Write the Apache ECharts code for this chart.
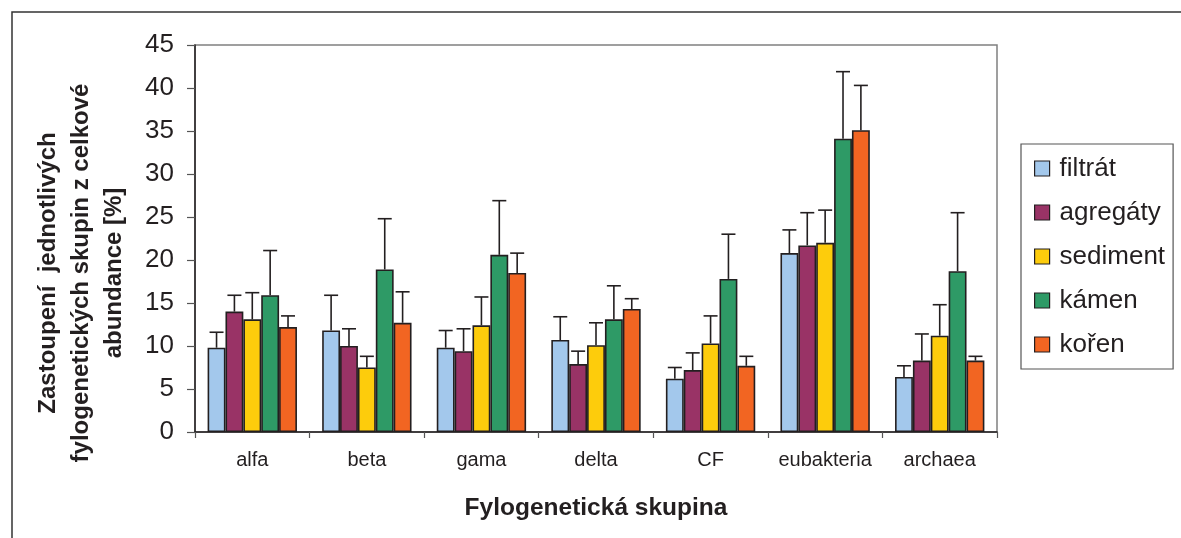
<!DOCTYPE html>
<html>
<head>
<meta charset="utf-8">
<script src="https://cdn.jsdelivr.net/npm/echarts@6/dist/echarts.min.js"></script>
<style>html,body{margin:0;padding:0;background:#fff;}#c{width:1181px;height:538px;}</style>
</head>
<body>
<div id="c"></div>
<script>
const categories = ['alfa', 'beta', 'gama', 'delta', 'CF', 'eubakteria', 'archaea'];
const seriesNames = ['filtrát', 'agregáty', 'sediment', 'kámen', 'kořen'];
const filtrat  = [9.8, 11.8, 9.8, 10.7, 6.2, 20.8, 6.4];
const agregaty = [14.0, 10.0, 9.4, 7.9, 7.2, 21.7, 8.3];
const sediment = [13.1, 7.5, 12.4, 10.1, 10.3, 22.0, 11.2];
const kamen    = [15.9, 18.9, 20.6, 13.1, 17.8, 34.1, 18.7];
const koren    = [12.2, 12.7, 18.5, 14.3, 7.7, 35.1, 8.3];
const errFiltrat  = [1.8, 4.1, 2.0, 2.7, 1.3, 2.7, 1.3];
const errAgregaty = [1.9, 2.0, 2.6, 1.5, 2.0, 3.8, 3.1];
const errSediment = [3.1, 1.3, 3.3, 2.6, 3.2, 3.8, 3.6];
const errKamen    = [5.2, 5.9, 6.3, 3.9, 5.2, 7.8, 6.8];
const errKoren    = [1.3, 3.6, 2.3, 1.2, 1.1, 5.2, 0.5];
const yTicks = [0, 5, 10, 15, 20, 25, 30, 35, 40, 45];

const values = [filtrat, agregaty, sediment, kamen, koren];
const errors = [errFiltrat, errAgregaty, errSediment, errKamen, errKoren];
const colors = ['#a3c8ec', '#993366', '#fdcc0c', '#2e9a66', '#f26522'];
const edge = '#231f20';
const GAP = 0.22;
const FONT = '"Liberation Sans", Arial, sans-serif';

const chart = echarts.init(document.getElementById('c'), null, {renderer: 'canvas'});

const series = [];
values.forEach((vals, i) => {
  series.push({
    name: seriesNames[i],
    type: 'bar',
    data: vals,
    barGap: '0%',
    barCategoryGap: (GAP * 100) + '%',
    itemStyle: {color: colors[i], borderColor: edge, borderWidth: 1.6},
    emphasis: {disabled: true}
  });
});
values.forEach((vals, i) => {
  series.push({
    type: 'custom',
    name: seriesNames[i] + '_err',
    z: 5,
    data: vals.map((v, c) => [c, v, errors[i][c]]),
    renderItem: function (params, api) {
      const c = api.value(0), v = api.value(1), e = api.value(2);
      const base = api.coord([c, v]);
      const top = api.coord([c, v + e]);
      const band = api.size([1, 0])[0];
      const grp = band * (1 - GAP);
      const bw = grp / 5;
      const x = base[0] - grp / 2 + (i + 0.5) * bw;
      const st = {stroke: edge, lineWidth: 1.6};
      return {
        type: 'group',
        children: [
          {type: 'line', shape: {x1: x, y1: base[1], x2: x, y2: top[1]}, style: st},
          {type: 'line', shape: {x1: x - 7, y1: top[1], x2: x + 7, y2: top[1]}, style: st}
        ]
      };
    },
    silent: true
  });
});

chart.setOption({
  animation: false,
  backgroundColor: '#fff',
  grid: {left: 195, right: 184, top: 45, bottom: 106, show: true, borderColor: '#808080', borderWidth: 1.5, backgroundColor: 'transparent'},
  legend: {
    data: seriesNames,
    orient: 'vertical',
    left: 1021,
    top: 144,
    padding: [11, 8, 11, 13],
    itemGap: 17,
    itemWidth: 15,
    itemHeight: 15,
    borderColor: '#555',
    borderWidth: 1.2,
    icon: 'rect',
    itemStyle: {borderColor: edge, borderWidth: 1.2},
    textStyle: {fontFamily: FONT, fontSize: 26, lineHeight: 27, color: '#231f20', padding: [0, 0, 0, 5]},
    selectedMode: false
  },
  xAxis: {
    type: 'category',
    data: categories,
    axisLine: {lineStyle: {color: edge, width: 1.5}},
    axisTick: {show: true, interval: 0, length: 6, lineStyle: {color: '#555', width: 1.2}},
    axisLabel: {interval: 0, fontFamily: FONT, fontSize: 20, color: '#231f20', margin: 18},
    name: 'Fylogenetická skupina',
    nameLocation: 'middle',
    nameGap: 64,
    nameTextStyle: {fontFamily: FONT, fontSize: 24.5, fontWeight: 'bold', color: '#231f20'}
  },
  yAxis: {
    type: 'value',
    min: 0,
    max: 45,
    interval: 5,
    axisLine: {show: true, lineStyle: {color: edge, width: 1.5}},
    axisTick: {show: true, length: 8, lineStyle: {color: '#555', width: 1.2}},
    splitLine: {show: false},
    axisLabel: {fontFamily: FONT, fontSize: 26, color: '#231f20', margin: 21,
      formatter: v => yTicks.indexOf(v) >= 0 ? String(v) : ''}
  },
  graphic: [
    {type: 'rect', shape: {x: 12, y: 12, width: 1300, height: 700}, style: {fill: 'none', stroke: '#333', lineWidth: 1.5}, silent: true},
    {type: 'text', x: 81, y: 273, rotation: Math.PI / 2, silent: true,
      style: {text: 'Zastoupení  jednotlivých\nfylogenetických skupin z celkové\nabundance [%]',
        fontFamily: FONT, fontSize: 24, fontWeight: 'bold', fill: '#231f20', lineHeight: 33,
        align: 'center', verticalAlign: 'middle'}}
  ],
  series: series
});
</script>
</body>
</html>
